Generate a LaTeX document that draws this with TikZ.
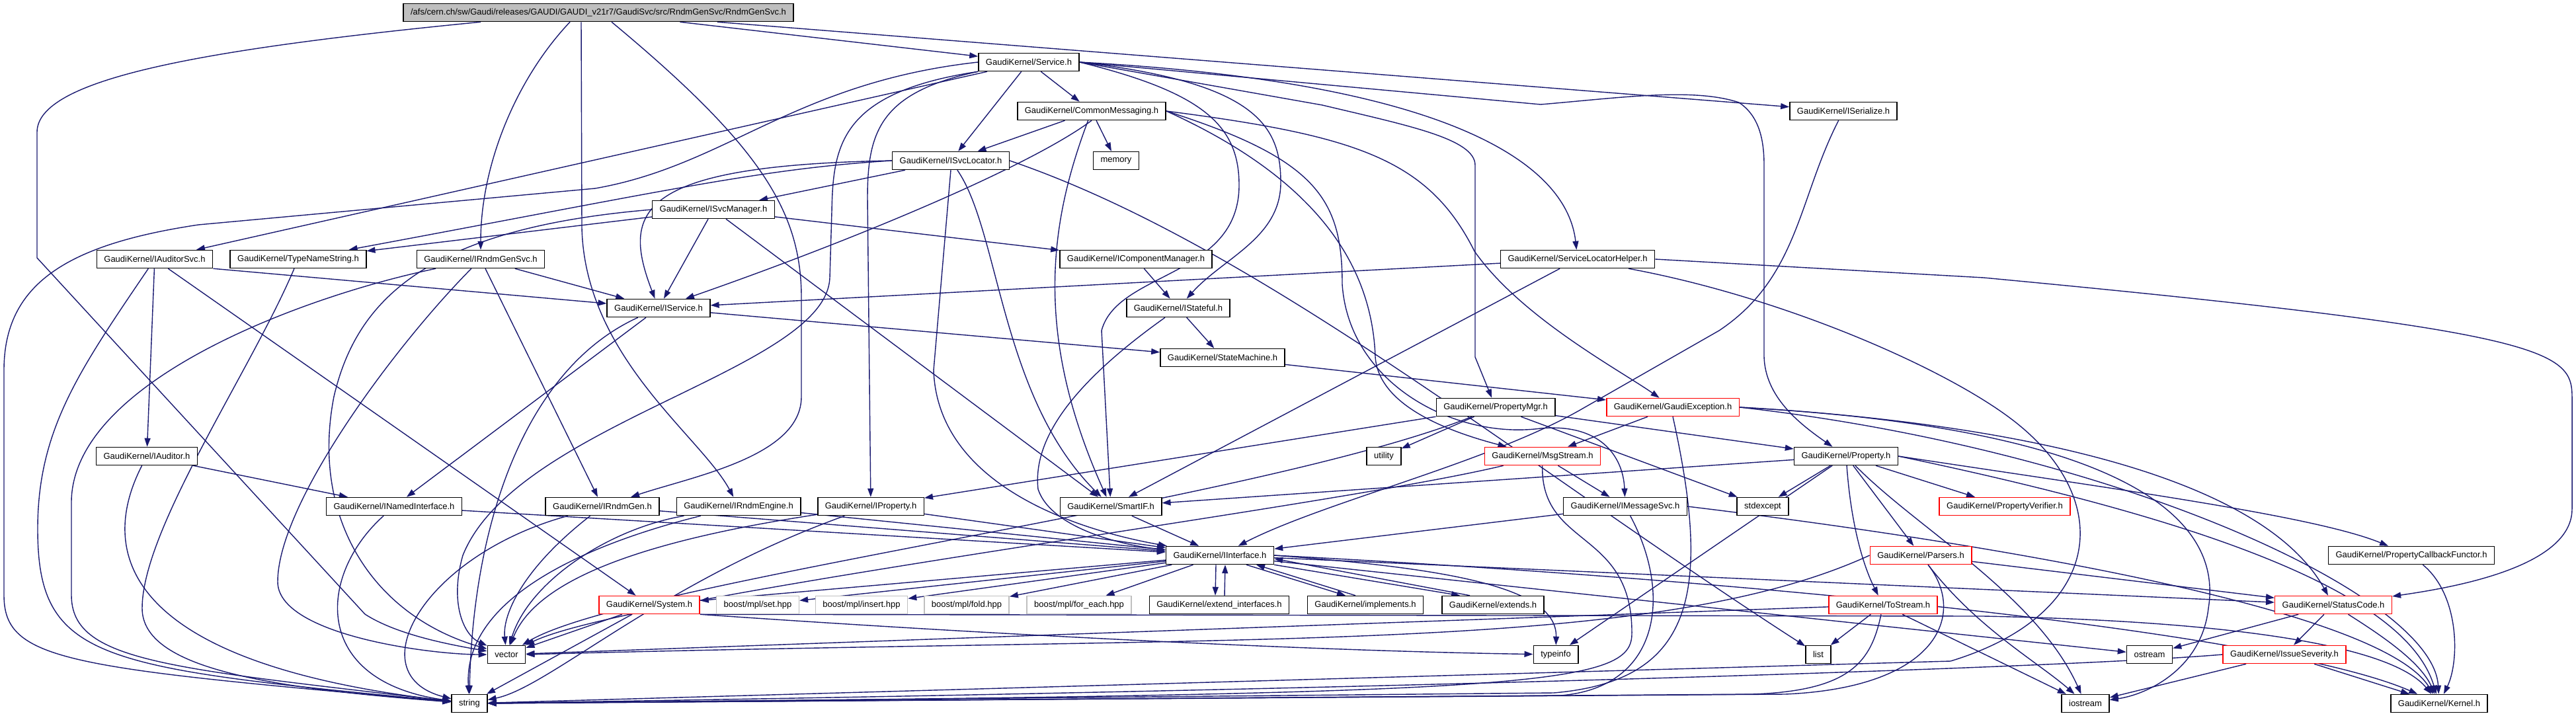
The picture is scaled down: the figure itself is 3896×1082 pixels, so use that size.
\documentclass[tikz,border=0pt]{standalone}
\usepackage{fontspec}
\setmainfont{Liberation Sans}
\usetikzlibrary{arrows.meta,backgrounds}
\definecolor{edgeblue}{RGB}{25,25,112}
\definecolor{rootgray}{RGB}{191,191,191}
\definecolor{extgray}{RGB}{191,191,191}
\tikzset{
  hdr/.style={draw=black, fill=white, line width=1.5pt, minimum height=27pt, inner xsep=11pt, inner ysep=0pt, font=\fontsize{13}{15}\selectfont},
  hdrred/.style={hdr, draw=red},
  hdrext/.style={hdr, draw=extgray},
  hdrroot/.style={hdr, fill=rootgray},
  dep/.style={draw=edgeblue, line width=1.4pt, -{Triangle[length=13pt,width=9pt]}}
}
\begin{document}
\begin{tikzpicture}[x=1pt, y=-1pt]
\useasboundingbox (0,0) rectangle (3896,1082);
% Fichiers
\node[hdrroot] (root) at (905,19) {/afs/cern.ch/sw/Gaudi/releases/GAUDI/GAUDI\_v21r7/GaudiSvc/src/RndmGenSvc/RndmGenSvc.h};
\node[hdr] (service) at (1556,94) {GaudiKernel/Service.h};
\node[hdr] (iserialize) at (2788,168) {GaudiKernel/ISerialize.h};
\node[hdr] (commsg) at (1651,168) {GaudiKernel/CommonMessaging.h};
\node[hdr] (isvcloc) at (1438,243) {GaudiKernel/ISvcLocator.h};
\node[hdr] (memory) at (1688,243) {memory};
\node[hdr] (isvcmgr) at (1079,317) {GaudiKernel/ISvcManager.h};
\node[hdr] (iauditorsvc) at (234,392) {GaudiKernel/IAuditorSvc.h};
\node[hdr] (typename) at (451,392) {GaudiKernel/TypeNameString.h};
\node[hdr] (irndmgensvc) at (727,392) {GaudiKernel/IRndmGenSvc.h};
\node[hdr] (icompmgr) at (1718,392) {GaudiKernel/IComponentManager.h};
\node[hdr] (svclochelper) at (2386,392) {GaudiKernel/ServiceLocatorHelper.h};
\node[hdr] (iservice) at (996,466) {GaudiKernel/IService.h};
\node[hdr] (istateful) at (1782,466) {GaudiKernel/IStateful.h};
\node[hdr] (statemach) at (1849,541) {GaudiKernel/StateMachine.h};
\node[hdr] (propmgr) at (2262,616) {GaudiKernel/PropertyMgr.h};
\node[hdrred] (gaudiexc) at (2530,616) {GaudiKernel/GaudiException.h};
\node[hdr] (iauditor) at (222,690) {GaudiKernel/IAuditor.h};
\node[hdr] (utility) at (2093,690) {utility};
\node[hdrred] (msgstream) at (2333,690) {GaudiKernel/MsgStream.h};
\node[hdr] (property) at (2792,690) {GaudiKernel/Property.h};
\node[hdr] (inamed) at (596,766) {GaudiKernel/INamedInterface.h};
\node[hdr] (irndmgen) at (911,766) {GaudiKernel/IRndmGen.h};
\node[hdr] (irndmeng) at (1117,766) {GaudiKernel/IRndmEngine.h};
\node[hdr] (iproperty) at (1317,766) {GaudiKernel/IProperty.h};
\node[hdr] (smartif) at (1680,766) {GaudiKernel/SmartIF.h};
\node[hdr] (imsgsvc) at (2458,766) {GaudiKernel/IMessageSvc.h};
\node[hdr] (stdexcept) at (2666,766) {stdexcept};
\node[hdrred] (propverif) at (3032,766) {GaudiKernel/PropertyVerifier.h};
\node[hdr] (iinterface) at (1845,840) {GaudiKernel/IInterface.h};
\node[hdrred] (parsers) at (2905,840) {GaudiKernel/Parsers.h};
\node[hdr] (propcb) at (3647,840) {GaudiKernel/PropertyCallbackFunctor.h};
\node[hdrred] (system) at (982,915) {GaudiKernel/System.h};
\node[hdrext] (mplset) at (1146,915) {boost/mpl/set.hpp};
\node[hdrext] (mplinsert) at (1303,915) {boost/mpl/insert.hpp};
\node[hdrext] (mplfold) at (1462,915) {boost/mpl/fold.hpp};
\node[hdrext] (mplforeach) at (1632,915) {boost/mpl/for\_each.hpp};
\node[hdr] (extendif) at (1844,915) {GaudiKernel/extend\_interfaces.h};
\node[hdr] (implements) at (2065,915) {GaudiKernel/implements.h};
\node[hdr] (extends) at (2258,915) {GaudiKernel/extends.h};
\node[hdrred] (tostream) at (2848,915) {GaudiKernel/ToStream.h};
\node[hdrred] (statuscode) at (3529,915) {GaudiKernel/StatusCode.h};
\node[hdr] (vector) at (766,990) {vector};
\node[hdr] (typeinfo) at (2353,990) {typeinfo};
\node[hdr] (list) at (2750,990) {list};
\node[hdr] (ostream) at (3251,990) {ostream};
\node[hdrred] (issuesev) at (3455,990) {GaudiKernel/IssueSeverity.h};
\node[hdr] (string) at (710,1064) {string};
\node[hdr] (iostream) at (3154,1064) {iostream};
\node[hdr] (kernel) at (3689,1064) {GaudiKernel/Kernel.h};

\begin{scope}[on background layer]
% Inclusions
\draw[dep] (root) -- (service);
\draw[dep] (root) -- (iserialize);
\draw[dep] ([xshift=-43pt]root.south) .. controls (780,120) and (727,250) .. (irndmgensvc);
\draw[dep] ([xshift=-26pt]root.south) -- (880,345) .. controls (885,540) and (1060,660) .. (irndmeng);
\draw[dep] ([xshift=20pt]root.south) .. controls (1150,220) and (1212,320) .. (1212,450) -- (1212,600) .. controls (1212,690) and (1050,720) .. (irndmgen);
\draw[dep] ([xshift=-178pt]root.south) .. controls (300,75) and (56,120) .. (56,200) -- (56,390) -- (552,929) .. controls (600,960) and (680,975) .. (vector);

\draw[dep] (service) -- (isvcloc);
\draw[dep] (service) -- (commsg);
\draw[dep] (service) -- (iauditorsvc);
\draw[dep] (service.west) .. controls (1200,125) and (1100,250) .. (900,285) -- (300,340) .. controls (100,370) and (6,430) .. (6,560) -- (6,900) .. controls (6,1000) and (100,1010) .. (string);
\draw[dep] (service.south west) .. controls (1270,140) and (1260,220) .. (1258,320) -- (1255,420) .. controls (1250,560) and (780,640) .. (700,840) .. controls (680,910) and (700,960) .. (vector);
\draw[dep] (service.south west) .. controls (1330,140) and (1312,200) .. (1312,300) -- (iproperty);
\draw[dep] (service.east) .. controls (1900,125) and (1937,190) .. (1937,276) .. controls (1937,360) and (1850,390) .. (istateful);
\draw[dep] (service.east) .. controls (1820,140) and (1874,190) .. (1874,280) .. controls (1874,420) and (1690,410) .. (1666,500) -- (smartif);
\draw[dep] (service.east) .. controls (2200,125) and (2370,250) .. (svclochelper);
\draw[dep] (service.east) -- (2330,158) .. controls (2450,148) and (2560,132) .. (2630,155) .. controls (2660,175) and (2668,210) .. (2668,250) -- (2668,540) .. controls (2670,600) and (2720,640) .. (property);
\draw[dep] (service.east) -- (2000,159) .. controls (2130,190) and (2231,210) .. (2231,250) -- (2231,540) -- (propmgr);

\draw[dep] (commsg) -- (isvcloc);
\draw[dep] (commsg) -- (memory);
\draw[dep] (commsg.south) .. controls (1560,250) and (1300,360) .. (iservice);
\draw[dep] (commsg) .. controls (1590,330) and (1560,500) .. (smartif);
\draw[dep] (commsg.east) .. controls (2050,205) and (2160,240) .. (2230,380) .. controls (2300,480) and (2450,560) .. (gaudiexc);
\draw[dep] (commsg.east) .. controls (1990,240) and (2030,300) .. (2030,430) .. controls (2040,580) and (2200,665) .. (2330,648) .. controls (2420,640) and (2455,690) .. (imsgsvc);
\draw[dep] (commsg.east) .. controls (1990,270) and (2075,400) .. (2080,540) .. controls (2085,610) and (2180,650) .. (msgstream);

\draw[dep] (isvcloc) -- (isvcmgr);
\draw[dep] (isvcloc.west) .. controls (1150,255) and (1000,290) .. (typename);
\draw[dep] (isvcloc.west) .. controls (960,250) and (940,320) .. (iservice);
\draw[dep] (isvcloc.south) -- (1412,560) .. controls (1418,730) and (1620,800) .. (iinterface);
\draw[dep] (isvcloc) .. controls (1512,350) and (1513,600) .. (smartif);
\draw[dep] (isvcloc.east) .. controls (1900,370) and (2300,700) .. (list);

\draw[dep] (isvcmgr) -- (typename);
\draw[dep] (isvcmgr) -- (iservice);
\draw[dep] (isvcmgr) -- (icompmgr);
\draw[dep] (isvcmgr) -- (smartif);
\draw[dep] (isvcmgr.west) .. controls (650,345) and (540,450) .. (505,600) .. controls (470,780) and (560,930) .. (vector);

\draw[dep] (iauditorsvc) -- (iauditor);
\draw[dep] (iauditorsvc.south east) -- (iservice);
\draw[dep] (iauditorsvc) -- (system);
\draw[dep] (iauditorsvc) .. controls (120,560) and (57,650) .. (57,800) .. controls (57,1000) and (150,1010) .. (string);
\draw[dep] (typename) .. controls (380,560) and (215,800) .. (215,920) .. controls (215,1010) and (400,1040) .. (string);

\draw[dep] (irndmgensvc) -- (iservice);
\draw[dep] (irndmgensvc) -- (irndmgen);
\draw[dep] (irndmgensvc) .. controls (450,450) and (108,580) .. (108,760) -- (108,900) .. controls (108,1000) and (250,1010) .. (string);
\draw[dep] (irndmgensvc) .. controls (600,520) and (420,760) .. (420,880) .. controls (420,960) and (650,990) .. (vector);

\draw[dep] (iservice) -- (inamed);
\draw[dep] (iservice) -- (statemach);
\draw[dep] (iservice) .. controls (790,560) and (715,800) .. (string.north);
\draw[dep] (iauditor) -- (inamed);
\draw[dep] (iauditor) .. controls (155,820) and (160,1000) .. (string);
\draw[dep] (inamed) -- (iinterface);
\draw[dep] (inamed) .. controls (480,870) and (470,1030) .. (string);
\draw[dep] (irndmgen) -- (iinterface);
\draw[dep] (irndmgen) .. controls (790,860) and (760,930) .. (vector);
\draw[dep] (irndmgen) .. controls (640,840) and (540,1020) .. (string);
\draw[dep] (irndmeng) -- (iinterface);
\draw[dep] (irndmeng) .. controls (920,800) and (800,880) .. (vector);
\draw[dep] (irndmeng) .. controls (900,820) and (700,900) .. (string);
\draw[dep] (iproperty) -- (iinterface);
\draw[dep] (iproperty) .. controls (960,820) and (810,880) .. (vector);
\draw[dep] (iproperty) .. controls (1000,880) and (830,1040) .. (string);
\draw[dep] (smartif) -- (iinterface);

\draw[dep] (propmgr) -- (iproperty);
\draw[dep] (propmgr) -- (property);
\draw[dep] (propmgr) -- (utility);
\draw[dep] (propmgr) -- (stdexcept);
\draw[dep] (propmgr) .. controls (1900,760) and (950,880) .. (vector);

\draw[dep] (gaudiexc) -- (msgstream);
\draw[dep] (gaudiexc.south) .. controls (2590,900) and (2560,1030) .. (2350,1048) -- (string);
\draw[dep] (gaudiexc.east) .. controls (3050,640) and (3420,720) .. (statuscode);
\draw[dep] (gaudiexc.east) .. controls (3250,650) and (3360,800) .. (3340,920) .. controls (3330,1010) and (3250,1050) .. (iostream);
\draw[dep] (gaudiexc.east) .. controls (3200,680) and (3680,900) .. (kernel);

\draw[dep] (msgstream) -- (imsgsvc);
\draw[dep] (msgstream) .. controls (2330,830) and (2470,800) .. (2468,960) .. controls (2466,1040) and (2300,1050) .. (string);
\draw[dep] (msgstream) .. controls (2000,770) and (950,900) .. (vector);
\draw[dep] (imsgsvc) -- (iinterface);
\draw[dep] (imsgsvc) .. controls (2530,900) and (2510,1040) .. (2360,1052) -- (string);
\draw[dep] (imsgsvc.east) .. controls (3000,820) and (3600,920) .. (kernel);

\draw[dep] (property) -- (propverif);
\draw[dep] (property) -- (parsers);
\draw[dep] (property) .. controls (2800,800) and (2820,860) .. (tostream);
\draw[dep] (property) -- (stdexcept);
\draw[dep] (property) -- (typeinfo);
\draw[dep] (property) -- (smartif);
\draw[dep] (property.east) .. controls (3200,740) and (3500,780) .. (propcb);
\draw[dep] (property) .. controls (2900,800) and (3080,900) .. (iostream);
\draw[dep] (property.east) .. controls (3350,790) and (3640,900) .. (kernel);

\draw[dep] (parsers) -- (statuscode);
\draw[dep] (parsers.west) .. controls (2500,990) and (1900,960) .. (vector.east);
\draw[dep] (parsers) .. controls (2975,930) and (2930,1040) .. (2700,1050) -- (string);
\draw[dep] (parsers) .. controls (2990,950) and (3080,1000) .. (iostream);
\draw[dep] (tostream) -- (list);
\draw[dep] (tostream) -- (iostream);
\draw[dep] (tostream) .. controls (2830,1000) and (2800,1045) .. (2650,1050) -- (string);
\draw[dep] (tostream) -- (vector);

\draw[dep] (statuscode) -- (ostream);
\draw[dep] (statuscode) -- (issuesev);
\draw[dep] (statuscode) .. controls (3600,960) and (3660,1000) .. (kernel);
\draw[dep] (issuesev) -- (iostream);
\draw[dep] (issuesev) -- (kernel);
\draw[dep] (issuesev.west) .. controls (3100,1012) and (2000,1045) .. (string);
\draw[dep] (propcb) .. controls (3720,900) and (3720,1000) .. (kernel);

\draw[dep] (iinterface) -- (system);
\draw[dep] (iinterface) -- (mplset);
\draw[dep] (iinterface) -- (mplinsert);
\draw[dep] (iinterface) -- (mplfold);
\draw[dep] (iinterface) -- (mplforeach);
\draw[dep] ([xshift=-6pt]iinterface.south) -- ([xshift=-6pt]extendif.north);
\draw[dep] ([xshift=8pt]extendif.north) -- ([xshift=8pt]iinterface.south);
\draw[dep] ([xshift=40pt]iinterface.south) -- ([xshift=-30pt]implements.north);
\draw[dep] ([xshift=-15pt]implements.north) -- ([xshift=55pt]iinterface.south);
\draw[dep] (iinterface.south east) -- ([xshift=-50pt]extends.north);
\draw[dep] ([xshift=-35pt]extends.north) -- ([yshift=-5pt]iinterface.east);
\draw[dep] (iinterface) -- (statuscode);
\draw[dep] (iinterface) -- (ostream);
\draw[dep] (iinterface.east) .. controls (2700,880) and (3450,960) .. (kernel);
\draw[dep] (iinterface.east) .. controls (2200,860) and (2355,890) .. (typeinfo);

\draw[dep] (system) -- (vector);
\draw[dep] (system) -- (string);
\draw[dep] (system.south east) .. controls (1500,960) and (2000,985) .. (typeinfo);
\draw[dep] (system.south east) -- (3000,932) .. controls (3400,940) and (3620,980) .. (kernel);

\draw[dep] (iserialize) .. controls (2720,300) and (2720,420) .. (2600,500) -- (2390,620) .. controls (2250,700) and (2000,760) .. (iinterface);
\draw[dep] (svclochelper) -- (iservice);
\draw[dep] (svclochelper) -- (smartif);
\draw[dep] (svclochelper.east) -- (3000,420) .. controls (3850,500) and (3890,530) .. (3890,600) -- (3890,770) .. controls (3890,860) and (3700,890) .. (statuscode);
\draw[dep] (svclochelper) .. controls (2700,450) and (2950,560) .. (3050,640) .. controls (3200,760) and (3180,930) .. (2950,1000) -- (string);

\draw[dep] (icompmgr) -- (istateful);
\draw[dep] (istateful) -- (statemach);
\draw[dep] (istateful) .. controls (1650,560) and (1560,650) .. (1570,740) .. controls (1590,800) and (1700,825) .. (iinterface);
\draw[dep] (statemach) -- (gaudiexc);
\end{scope}
\end{tikzpicture}
\end{document}
